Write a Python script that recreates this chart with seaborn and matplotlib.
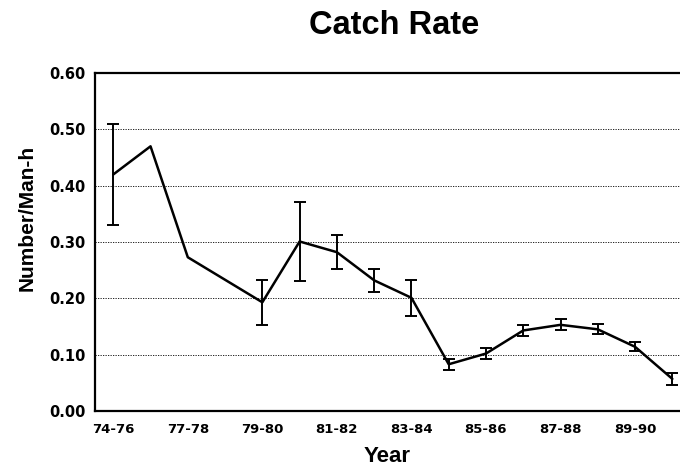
import numpy as np
import pandas as pd
import matplotlib
matplotlib.use("Agg")
import matplotlib.pyplot as plt
import seaborn as sns

# season index (0 = 74-76 ... 15 = 90-91); index 3 has no estimate
season_idx = [0, 1, 2, 4, 5, 6, 7, 8, 9, 10, 11, 12, 13, 14, 15]
catch_rate = [0.42, 0.47, 0.273, 0.193, 0.301, 0.282, 0.232, 0.201, 0.083,
              0.102, 0.143, 0.153, 0.145, 0.114, 0.057]
err = [0.09, 0.0, 0.0, 0.04, 0.07, 0.03, 0.02, 0.032, 0.01,
       0.01, 0.01, 0.01, 0.009, 0.008, 0.01]
has_err = [True, False, False, True, True, True, True, True, True,
           True, True, True, True, True, True]

tick_labels = ["74-76", "77-78", "79-80", "81-82", "83-84", "85-86", "87-88", "89-90"]
n_seasons = 16
y_ticks = [0.0, 0.1, 0.2, 0.3, 0.4, 0.5, 0.6]

df = pd.DataFrame({"season": season_idx, "rate": catch_rate, "err": err, "has_err": has_err})

sns.set_theme(style="white")
plt.rcParams["font.family"] = ["Liberation Sans", "DejaVu Sans"]
plt.rcParams.update({"text.color": "black", "axes.labelcolor": "black",
                     "xtick.color": "black", "ytick.color": "black"})

fig = plt.figure(figsize=(6.8, 4.68), dpi=100)
ax = fig.add_axes([0.1397, 0.1218, 0.86, 0.722])

sns.lineplot(data=df, x="season", y="rate", color="black", linewidth=1.8, ax=ax)
eb = df[df["has_err"]]
ax.errorbar(eb["season"], eb["rate"], yerr=eb["err"], fmt="none", ecolor="black",
            elinewidth=1.4, capsize=4, capthick=1.4)

ax.set_xlim(-0.49, 15.2)
ax.set_ylim(0, 0.6)
ax.set_yticks(y_ticks)
ax.set_yticklabels([f"{v:.2f}" for v in y_ticks], fontsize=10.5, fontweight="bold",
                   family="DejaVu Sans")
ax.set_xticks(range(n_seasons))
ax.set_xticklabels([tick_labels[i // 2] if i % 2 == 0 else "" for i in range(n_seasons)],
                   fontsize=9.5, fontweight="bold", family="DejaVu Sans")
ax.tick_params(axis="x", direction="in", length=5, width=1.2, color="black", pad=9)
ax.tick_params(axis="y", direction="out", length=3, width=1, color="black", pad=4)

for v in y_ticks[1:-1]:
    ax.axhline(v, color="black", linewidth=0.6, linestyle=(0, (1.5, 1.5)), zorder=0)

for side in ["left", "top", "bottom"]:
    ax.spines[side].set_color("black")
    ax.spines[side].set_linewidth(1.6)
ax.spines["right"].set_visible(False)

ax.set_xlabel("Year", fontsize=16, fontweight="bold", labelpad=7)
ax.set_ylabel("Number/Man-h", fontsize=15, fontweight="bold")
ax.yaxis.set_label_coords(-0.1, 0.57)
fig.text(0.579, 0.945, "Catch Rate", ha="center", va="center", fontsize=23.5, fontweight="bold")

fig.savefig("out.png", dpi=100)
